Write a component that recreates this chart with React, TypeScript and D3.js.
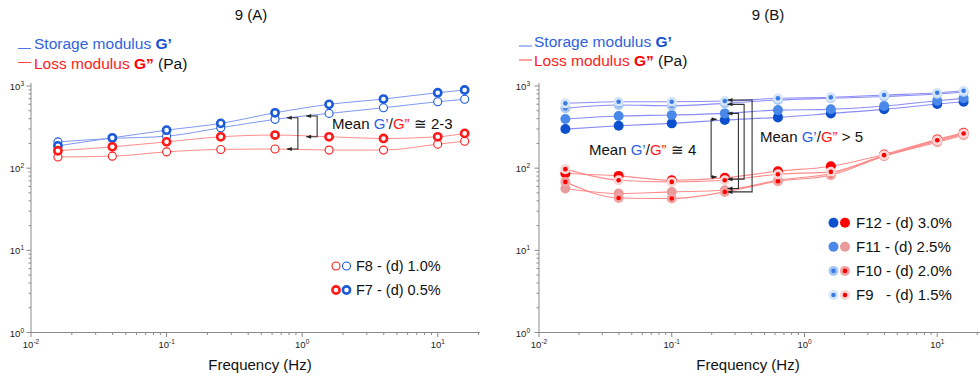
import React from 'react';
import * as d3 from 'd3';

// ---------- shared ----------
const FREQ = [0.0158, 0.0398, 0.1, 0.251, 0.631, 1.58, 3.98, 10, 15.8];
const X_TICKS = [0.01, 0.1, 1, 10];
const Y_TICKS = [1, 10, 100, 1000];

// ---------- panel A (Pa) ----------
const A_F7_GP = [187, 234, 290, 351, 472, 598, 694, 829, 894];
const A_F8_GP = [209, 230, 245, 310, 393, 464, 543, 644, 689];
const A_F7_GPP = [163, 182, 209, 241, 253, 241, 230, 241, 265];
const A_F8_GPP = [137, 140, 158, 169, 171, 166, 166, 196, 213];
const A_LEGEND = ['F8 - (d) 1.0%', 'F7 - (d) 0.5%'];

// ---------- panel B (Pa) ----------
const B_F12_GP = [299, 328, 351, 385, 415, 464, 520, 603, 644];
const B_F11_GP = [396, 431, 443, 464, 509, 520, 570, 662, 708];
const B_F10_GP = [535, 586, 575, 615, 675, 708, 745, 798, 845];
const B_F9_GP = [615, 644, 644, 656, 708, 728, 776, 829, 877];
const B_F12_GPP = [86.1, 80.5, 71.4, 76.2, 91.9, 105.7, 146.8, 224, 269];
const B_F11_GPP = [56.5, 49.1, 51.4, 53.9, 71.4, 86.1, 142, 213, 260];
const B_F10_GPP = [68.1, 43.4, 42.7, 51.4, 69.3, 82.2, 140, 207, 252];
const B_F9_GPP = [97.3, 71.4, 68.1, 71.4, 84.5, 90.2, 144, 219, 264];
const B_LEGEND = ['F12 - (d) 3.0%', 'F11 - (d) 2.5%', 'F10 - (d) 2.0%', 'F9   - (d) 1.5%'];

// annotation brackets (data units: frequency of vertical bar, frequency of arrow tip, top & bottom modulus)
const A_BRACKETS = [
  { xv: 0.93, xt: 0.77, top: 410, bottom: 171 },
  { xv: 1.29, xt: 1.07, top: 431, bottom: 241 },
];
const B_BRACKETS = [
  { xv: 0.198, xt: 0.218, top: 393, bottom: 78.3 },
  { xv: 0.318, xt: 0.263, top: 464, bottom: 56.5 },
  { xv: 0.351, xt: 0.263, top: 598, bottom: 73.5 },
  { xv: 0.403, xt: 0.263, top: 675, bottom: 51.4 },
];

const FONT = "'Liberation Sans', Arial, Helvetica, sans-serif";
const BLUE_TXT = '#2f62e0';
const BLUE_BOLD = '#1450d2';
const RED_TXT = '#ff1a1a';
const AXIS = '#8a8a8a';

type Scale = d3.ScaleLogarithmic<number, number>;

function Exp({ e }: { e: number }) {
  return (
    <>
      <tspan>10</tspan>
      <tspan dy={-4} fontSize={6.5}>{e}</tspan>
    </>
  );
}

function Axes({ x, y, labelX, yLabelGap }: { x: Scale; y: Scale; labelX: number; yLabelGap: number }) {
  const [x0, x1] = x.range();
  const [yb, yt] = y.range();
  const [dx0, dx1] = x.domain();
  const xMinor: number[] = [];
  for (let d = -2; d <= 1; d++) for (let k = 2; k <= 9; k++) {
    const v = k * Math.pow(10, d);
    if (v > dx0 && v < dx1) xMinor.push(v);
  }
  const yMinor: number[] = [];
  for (let d = 0; d <= 2; d++) for (let k = 2; k <= 9; k++) yMinor.push(k * Math.pow(10, d));
  return (
    <g fontFamily={FONT}>
      <line x1={x0} x2={x1} y1={yb} y2={yb} stroke={AXIS} strokeWidth={1} />
      <line x1={x0} x2={x0} y1={yb} y2={yt - 3} stroke={AXIS} strokeWidth={1} />
      {xMinor.map((v) => (
        <line key={'xm' + v} x1={x(v)} x2={x(v)} y1={yb} y2={yb + 2.5} stroke={AXIS} />
      ))}
      {X_TICKS.map((v) => (
        <g key={'xt' + v}>
          <line x1={x(v)} x2={x(v)} y1={yb} y2={yb + 4.5} stroke={AXIS} />
          <text x={x(v)} y={yb + 15} fontSize={9.5} textAnchor="middle" fill="#222">
            <Exp e={Math.round(Math.log10(v))} />
          </text>
        </g>
      ))}
      {yMinor.map((v) => (
        <line key={'ym' + v} x1={x0 - 2.5} x2={x0} y1={y(v)} y2={y(v)} stroke={AXIS} />
      ))}
      {Y_TICKS.map((v) => (
        <g key={'yt' + v}>
          <line x1={x0 - 4.5} x2={x0} y1={y(v)} y2={y(v)} stroke={AXIS} />
          <text x={x0 - yLabelGap} y={y(v) + 4} fontSize={9.5} textAnchor="end" fill="#222">
            <Exp e={Math.round(Math.log10(v))} />
          </text>
        </g>
      ))}
      <text x={labelX} y={yb + 37} fontSize={15} textAnchor="middle" fill="#111">
        Frequency (Hz)
      </text>
    </g>
  );
}

function Brackets({ x, y, list }: { x: Scale; y: Scale; list: typeof A_BRACKETS }) {
  return (
    <g>
      {list.map((b, i) => {
        const xv = x(b.xv), xt = x(b.xt), yt = y(b.top), yb = y(b.bottom);
        const dir = xt < xv ? -1 : 1;
        const head = (yy: number) =>
          `M${xt},${yy} L${xt - dir * 5},${yy - 2} L${xt - dir * 5},${yy + 2} Z`;
        return (
          <g key={i}>
            <path d={`M${xt},${yt} H${xv} V${yb} H${xt}`} fill="none" stroke="#333" strokeWidth={1.1} />
            <path d={head(yt)} fill="#222" />
            <path d={head(yb)} fill="#222" />
          </g>
        );
      })}
    </g>
  );
}

function HeaderLegend({ lx, textX, yS, yL, lineYS, lineYL }: any) {
  return (
    <g fontFamily={FONT} fontSize={15.5}>
      <line x1={lx} x2={lx + 13} y1={lineYS} y2={lineYS} stroke="#5577ee" strokeWidth={1} />
      <text x={textX} y={yS} fill={BLUE_TXT}>
        Storage modulus <tspan fontWeight="bold" fill={BLUE_BOLD}>G’</tspan>
      </text>
      <line x1={lx} x2={lx + 13} y1={lineYL} y2={lineYL} stroke="#ff4444" strokeWidth={1} />
      <text x={textX} y={yL} fill={RED_TXT}>
        Loss modulus <tspan fontWeight="bold" fill="#ff0000">G”</tspan>
        <tspan fill="#111"> (Pa)</tspan>
      </text>
    </g>
  );
}

function MeanText({ x, y, tail }: { x: number; y: number; tail: string }) {
  return (
    <text x={x} y={y} fontFamily={FONT} fontSize={15} fill="#111" style={{ whiteSpace: 'pre' }}>
      Mean <tspan fill={BLUE_TXT}>G’</tspan>/<tspan fill={RED_TXT}>G”</tspan>{tail}
    </text>
  );
}

export default function App() {
  const yA = d3.scaleLog().domain([1, 1000]).range([332.5, 86]);
  const xA = d3.scaleLog().domain([0.01, 20.5]).range([31, 480]);
  const xB = d3.scaleLog().domain([0.01, 21]).range([539, 980]);
  const yB = d3.scaleLog().domain([1, 1000]).range([332.5, 86]);

  const lineOf = (x: Scale, y: Scale) =>
    d3.line<number>().x((_, i) => x(FREQ[i])).y((v) => y(v)).curve(d3.curveMonotoneX);
  const lA = lineOf(xA, yA);
  const lB = lineOf(xB, yB);

  const BLUE_A = '#1b5ad8';
  const RED_A = '#ff1a1a';
  const seriesA = [
    { vals: A_F8_GP, color: BLUE_A, sw: 1.1, line: '#8098f3' },
    { vals: A_F7_GP, color: BLUE_A, sw: 2.6, line: '#8098f3' },
    { vals: A_F8_GPP, color: RED_A, sw: 1.1, line: '#ff8d8d' },
    { vals: A_F7_GPP, color: RED_A, sw: 2.6, line: '#ff8d8d' },
  ];

  const BDOT = '#3a7ce6';
  const seriesB = [
    { vals: B_F12_GP, fill: '#0d50cf', dot: '', line: '#8c8cf6' },
    { vals: B_F11_GP, fill: '#4a88ea', dot: '', line: '#8c8cf6' },
    { vals: B_F10_GP, fill: '#a8c8f2', dot: BDOT, line: '#8c8cf6' },
    { vals: B_F9_GP, fill: '#d6e5f8', dot: BDOT, line: '#8c8cf6' },
    { vals: B_F12_GPP, fill: '#ff0000', dot: '', line: '#ff8c8c' },
    { vals: B_F11_GPP, fill: '#e99a9a', dot: '', line: '#ff8c8c' },
    { vals: B_F10_GPP, fill: '#f1a4a4', dot: '#ff0000', line: '#ff8c8c' },
    { vals: B_F9_GPP, fill: '#f8d6d6', dot: '#ff0000', line: '#ff8c8c' },
  ];
  const legB = [
    { b: '#0d50cf', r: '#ff0000', bd: '', rd: '' },
    { b: '#4a88ea', r: '#e99a9a', bd: '', rd: '' },
    { b: '#a8c8f2', r: '#f1a4a4', bd: BDOT, rd: '#ff0000' },
    { b: '#d6e5f8', r: '#f8d6d6', bd: BDOT, rd: '#ff0000' },
  ];

  return (
    <svg
      width={980}
      height={377}
      viewBox="0 0 980 377"
      style={{ position: 'absolute', left: 0, top: 0, background: '#fff' }}
    >
      <rect width={980} height={377} fill="#fff" />
      {/* titles */}
      <text x={251} y={20} fontFamily={FONT} fontSize={15} textAnchor="middle" fill="#111">9 (A)</text>
      <text x={768} y={20} fontFamily={FONT} fontSize={15} textAnchor="middle" fill="#111">9 (B)</text>

      {/* ---------- Panel A ---------- */}
      <HeaderLegend lx={18} textX={34} yS={49} yL={68.5} lineYS={48.5} lineYL={62.5} />
      <Axes x={xA} y={yA} labelX={260} yLabelGap={7} />
      {seriesA.map((s, i) => (
        <path key={'la' + i} d={lA(s.vals) || ''} fill="none" stroke={s.line} strokeWidth={1} />
      ))}
      {seriesA.map((s, i) => (
        <g key={'pa' + i}>
          {s.vals.map((v, j) => (
            <circle key={j} cx={xA(FREQ[j])} cy={yA(v)} r={s.sw > 2 ? 3.6 : 4} fill="#fff" stroke={s.color} strokeWidth={s.sw} />
          ))}
        </g>
      ))}
      <Brackets x={xA} y={yA} list={A_BRACKETS} />
      <MeanText x={332} y={129} tail=" ≅ 2-3" />
      {A_LEGEND.map((t, i) => {
        const cy = 266 + i * 24;
        const sw = i === 0 ? 1.1 : 2.6;
        const r = i === 0 ? 4 : 3.6;
        return (
          <g key={'lga' + i}>
            <circle cx={336} cy={cy} r={r} fill="#fff" stroke={RED_A} strokeWidth={sw} />
            <circle cx={346.5} cy={cy} r={r} fill="#fff" stroke={BLUE_A} strokeWidth={sw} />
            <text x={356} y={cy + 5} fontFamily={FONT} fontSize={14.5} fill="#111">{t}</text>
          </g>
        );
      })}

      {/* ---------- Panel B ---------- */}
      <HeaderLegend lx={519} textX={534} yS={46.5} yL={66} lineYS={46} lineYL={60} />
      <Axes x={xB} y={yB} labelX={748} yLabelGap={9} />
      {seriesB.map((s, i) => (
        <path key={'lb' + i} d={lB(s.vals) || ''} fill="none" stroke={s.line} strokeWidth={1.1} />
      ))}
      {seriesB.map((s, i) => (
        <g key={'pb' + i}>
          {s.vals.map((v, j) => (
            <g key={j}>
              <circle cx={xB(FREQ[j])} cy={yB(v)} r={5} fill={s.fill} />
              {s.dot && <circle cx={xB(FREQ[j])} cy={yB(v)} r={2.3} fill={s.dot} />}
            </g>
          ))}
        </g>
      ))}
      <Brackets x={xB} y={yB} list={B_BRACKETS} />
      <MeanText x={589} y={155} tail=" ≅ 4" />
      <MeanText x={760} y={141.5} tail=" > 5" />
      {B_LEGEND.map((t, i) => {
        const cy = 222.7 + i * 24.1;
        const l = legB[i];
        return (
          <g key={'lgb' + i}>
            <circle cx={833.5} cy={cy} r={5} fill={l.b} />
            {l.bd && <circle cx={833.5} cy={cy} r={2.3} fill={l.bd} />}
            <circle cx={845} cy={cy} r={5} fill={l.r} />
            {l.rd && <circle cx={845} cy={cy} r={2.3} fill={l.rd} />}
            <text x={856} y={cy + 5.3} fontFamily={FONT} fontSize={15} fill="#111" style={{ whiteSpace: 'pre' }}>{t}</text>
          </g>
        );
      })}
    </svg>
  );
}
